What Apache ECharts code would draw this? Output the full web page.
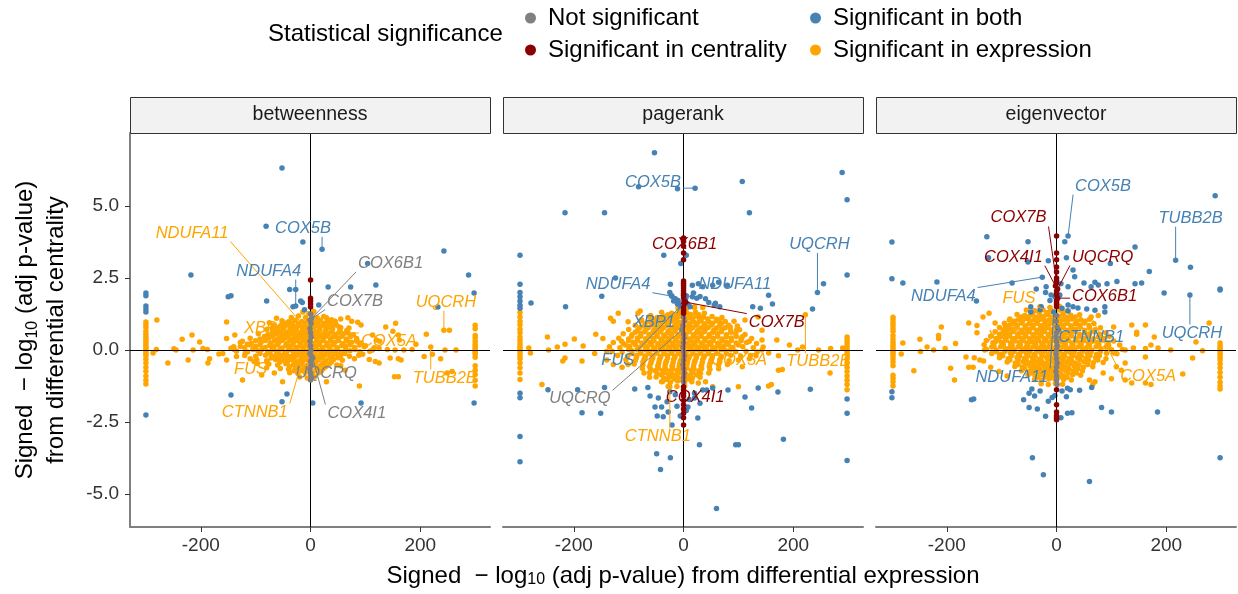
<!DOCTYPE html>
<html>
<head>
<meta charset="utf-8">
<script src="https://cdn.jsdelivr.net/npm/echarts@6/dist/echarts.min.js"></script>
<style>
  html, body { margin: 0; padding: 0; background: #ffffff; }
  #chart { width: 1238px; height: 594px; }
</style>
</head>
<body>
<div id="chart"></div>
<script>
// ---- Facets, categories and ticks ----
const facets = ['betweenness', 'pagerank', 'eigenvector'];
const categoryNames = ['Not significant', 'Significant in both', 'Significant in centrality', 'Significant in expression'];
const xTicks = [-200, 0, 200];
const yTicks = [-5, -2.5, 0, 2.5, 5];

// ---- betweenness: [signed -log10 p (expression), signed -log10 p (centrality)] ----
const betweennessExpression = [
  [-300,0.97],[-300,0.88],[-300,0.78],[-300,0.65],[-300,0.55],[-300,0.45],[-300,0.38],[-300,0.3],[-300,0.22],[-300,0.14],[-300,0.07],[-300,0.0],[-300,-0.06],[-300,-0.12],[-300,-0.2],[-300,-0.32],[-300,-0.45],[-300,-0.6],[-300,-0.74],[-300,-0.9],[-300,-1.05],[-300,-1.18],
  [300,0.86],[300,0.74],[300,0.5],[300,0.42],[300,0.3],[300,0.2],[300,0.12],[300,0.05],[300,-0.02],[300,-0.08],[300,-0.15],[300,-0.25],[300,-0.55],[300,-0.7],[300,-0.85],[300,-1.05],[300,-1.25],
  [-280,1.04],[-287,-0.1],[-281,0.02],[-260,-0.45],[-249,0.04],[-245,0.0],[-234,0.37],[-223,-0.35],[-216,0.52],[-214,0.0],[-202,0.28],[-196,0.05],[-188,0.02],[-187,-0.45],[-184,-0.3],[-167,-0.14],[-160,-0.12],[-153,0.97],[-153,0.4],[-153,-0.35],[-145,0.06],[-139,0.02],[-138,0.52],[-135,-0.23],[-124,-1.04],[-128,0.12],[-124,0.3],[-119,-0.1],[-115,0.2],[-110,-0.3],[-103,-0.4],[-97,-0.47],[-89,-0.87],[-75,0.95],[-70,0.75],[-62,1.1],[-51,0.95],[-51,-1.1],[-66,-0.8],[-80,-0.62],
  [29,1.12],[38,1.05],[45,0.98],[55,1.08],[68,1.12],[75,1.0],[86,0.96],[35,0.78],[52,0.8],[70,0.76],[92,0.87],[113,0.52],[120,0.35],[126,0.3],[137,0.8],[155,0.93],[150,0.65],[160,0.52],[162,0.35],[113,0.0],[125,0.05],[140,0.02],[154,0.0],[107,-0.33],[118,-0.4],[125,-0.45],[145,-0.28],[160,-0.3],[153,-0.93],[160,-0.93],[89,-1.25],[55,-0.55],[63,-0.7],[29,-1.1],[165,-0.35],[170,0.0],[185,0.02],[211,0.55],[207,-0.23],[222,-0.15],[237,-0.3],[245,0.0],[265,0.0],[253,0.69],[249,-0.8],[258,-0.75],[192,0.2],[100,0.15],[95,-0.15],[85,0.3],[80,-0.3],
  [-14,1.32],[-3,1.27],[6,1.34],
  [-35,1.13],[-22,1.18],[-9,1.14],[3,1.17],[12,1.12],[24,1.16],
  [-52,1.02],[-40,0.98],[-28,1.03],[-16,0.99],[-5,1.01],[8,0.97],[18,1.03],[30,0.99],[44,1.01],
  [-68,0.86],[-55,0.83],[-42,0.87],[-31,0.84],[-20,0.86],[-10,0.82],[0,0.87],[11,0.84],[22,0.86],[34,0.83],[47,0.87],
  [-80,0.71],[-64,0.68],[-50,0.72],[-38,0.69],[-27,0.71],[-15,0.67],[-5,0.72],[6,0.69],[17,0.71],[28,0.68],[40,0.72],[54,0.7],[66,0.68],
  [-95,0.56],[-78,0.53],[-62,0.57],[-49,0.54],[-36,0.56],[-24,0.52],[-12,0.57],[-2,0.54],[9,0.56],[21,0.53],[33,0.57],[46,0.54],[60,0.56],[78,0.53],
  [-110,0.41],[-92,0.38],[-76,0.42],[-60,0.39],[-47,0.41],[-34,0.37],[-22,0.42],[-11,0.39],[0,0.41],[11,0.38],[23,0.42],[36,0.39],[50,0.41],[65,0.38],[84,0.4],
  [-128,0.26],[-108,0.23],[-90,0.27],[-73,0.24],[-58,0.26],[-44,0.22],[-31,0.27],[-19,0.24],[-7,0.26],[5,0.23],[17,0.27],[30,0.24],[44,0.26],[59,0.23],[75,0.27],[92,0.24],
  [-140,0.11],[-120,0.08],[-100,0.12],[-83,0.09],[-67,0.11],[-52,0.07],[-38,0.12],[-25,0.09],[-12,0.11],[-1,0.08],[10,0.12],[22,0.09],[35,0.11],[49,0.08],[64,0.12],[80,0.09],[98,0.11],[116,0.08],
  [-135,-0.04],[-115,-0.07],[-96,-0.03],[-78,-0.06],[-62,-0.04],[-47,-0.08],[-33,-0.03],[-20,-0.06],[-8,-0.04],[4,-0.07],[16,-0.03],[28,-0.06],[41,-0.04],[56,-0.07],[72,-0.03],[90,-0.06],[108,-0.04],
  [-120,-0.19],[-100,-0.22],[-82,-0.18],[-66,-0.21],[-51,-0.19],[-37,-0.23],[-24,-0.18],[-11,-0.21],[1,-0.19],[13,-0.22],[26,-0.18],[40,-0.21],[55,-0.19],[71,-0.22],[88,-0.18],
  [-98,-0.34],[-80,-0.37],[-64,-0.33],[-49,-0.36],[-35,-0.34],[-22,-0.38],[-9,-0.33],[3,-0.36],[15,-0.34],[28,-0.37],[42,-0.33],[58,-0.36],
  [-76,-0.49],[-60,-0.52],[-45,-0.48],[-31,-0.51],[-18,-0.49],[-6,-0.53],[7,-0.48],[20,-0.51],[34,-0.49],[48,-0.52],
  [-55,-0.64],[-40,-0.67],[-27,-0.63],[-14,-0.66],[-2,-0.64],[11,-0.67],[24,-0.63],
  [-38,-0.79],[-23,-0.82],[-10,-0.78],[3,-0.81],[15,-0.79],
  [-20,-0.94],[-6,-0.97],[8,-0.93]
];
const betweennessExpressionCore = [
  [-46,0.93],[-34,0.94],[-22,0.92],[-10,0.94],[2,0.92],[13,0.94],[25,0.92],[38,0.94],
  [-60,0.78],[-48,0.79],[-36,0.77],[-25,0.79],[-15,0.77],[-5,0.79],[5,0.77],[16,0.79],[28,0.77],[40,0.79],[55,0.78],
  [-70,0.62],[-56,0.63],[-43,0.61],[-31,0.63],[-19,0.61],[-8,0.63],[3,0.61],[14,0.63],[26,0.61],[39,0.63],[52,0.62],[68,0.61],
  [-84,0.47],[-69,0.48],[-54,0.46],[-41,0.48],[-29,0.46],[-17,0.48],[-6,0.46],[5,0.48],[16,0.46],[28,0.48],[42,0.46],[57,0.48],[73,0.47],
  [-100,0.32],[-82,0.33],[-66,0.31],[-52,0.33],[-38,0.31],[-25,0.33],[-13,0.31],[-1,0.33],[11,0.31],[23,0.33],[37,0.31],[51,0.33],[67,0.31],[84,0.32],
  [-110,0.17],[-92,0.18],[-75,0.16],[-60,0.18],[-45,0.16],[-32,0.18],[-19,0.16],[-7,0.18],[4,0.16],[16,0.18],[29,0.16],[42,0.18],[57,0.16],[72,0.18],[89,0.17],
  [-105,0.02],[-88,0.03],[-70,0.01],[-55,0.03],[-40,0.01],[-27,0.03],[-14,0.01],[-2,0.03],[10,0.01],[22,0.03],[35,0.01],[48,0.03],[64,0.01],[81,0.02],
  [-92,-0.12],[-74,-0.11],[-58,-0.13],[-44,-0.11],[-30,-0.13],[-17,-0.11],[-5,-0.13],[7,-0.11],[19,-0.13],[33,-0.11],[48,-0.13],[63,-0.12],
  [-72,-0.27],[-57,-0.26],[-43,-0.28],[-30,-0.26],[-16,-0.28],[-3,-0.26],[9,-0.28],[21,-0.26],[35,-0.28],[50,-0.27],
  [-56,-0.42],[-42,-0.41],[-28,-0.43],[-15,-0.41],[-2,-0.43],[10,-0.41],[24,-0.43],[38,-0.42],
  [-38,-0.57],[-24,-0.56],[-11,-0.58],[1,-0.56],[14,-0.58],[28,-0.57],
  [-30,-0.72],[-16,-0.71],[-3,-0.73],[9,-0.71],[20,-0.72]
];
const betweennessBoth = [
  [-52,6.32],[-81,4.3],[-14,3.75],[104,3.0],[-218,2.6],[243,3.44],[288,2.6],[-38,2.1],[-27,2.1],[32,2.19],[73,2.19],[119,2.26],
  [-150,1.85],[-145,1.88],[-80,1.7],[-18,1.7],[-15,1.65],[-32,1.5],[-11,1.4],[15,1.56],[232,1.49],
  [-300,1.98],[-300,1.88],[-300,1.53],[-300,1.42],[-300,1.32],[-300,-2.26],[298,1.98],[298,-1.84],
  [92,-1.84],[4,-1.84],[-145,-1.56],[-52,-1.8],[-43,-1.53]
];
const betweennessCentrality = [[0,2.43],[0,1.8],[0,1.7],[0,1.6],[0,1.49]];
const betweennessNone = [
  [0,1.25],[1,0.92],[-1,0.75],[0,0.6],[1,0.45],[-1,0.3],[0,0.15],[1,0.0],[-1,-0.12],[0,-0.38],[1,-0.52],[-1,-0.66],[0,-0.8],[1,-0.92],[0,-1.04]
];
// labelled genes: [gene, category, x, y]
const betweennessGenes = [
  ['NDUFA11','expression',-10,0.8],['COX5B','both',21,3.5],['NDUFA4','both',-27,1.53],['COX6B1','none',2,1.1],
  ['COX7B','none',-1,1.04],['XBP1','expression',-10,0.62],['COX5A','expression',68,0.59],['FUS','expression',-20,-0.07],
  ['UQCRQ','none',1,-0.2],['CTNNB1','expression',-16,-0.42],['COX4I1','none',4,-0.28],['UQCRH','expression',243,0.69],
  ['TUBB2B','expression',219,0.1]
];

// ---- pagerank ----
const pagerankExpression = [
  [-298,1.3],[-298,1.15],[-298,1.0],[-298,0.88],[-298,0.72],[-298,0.6],[-298,0.45],[-298,0.33],[-298,0.22],[-298,0.12],[-298,0.05],[-298,-0.02],[-298,-0.1],[-298,-0.2],[-298,-0.3],[-298,-0.45],[-298,-0.62],[-298,-0.8],[-298,-1.02],
  [298,0.45],[298,0.35],[298,0.25],[298,0.15],[298,0.05],[298,-0.05],[298,-0.15],[298,-0.3],[298,-0.45],[298,-0.6],[298,-0.75],[298,-0.9],[298,-1.05],[298,-1.2],[298,-1.38],
  [-279,-0.1],[-282,0.07],[-248,0.45],[-230,0.1],[-246,0.0],[-216,0.2],[-199,0.38],[-216,-0.28],[-220,-0.38],[-185,-0.38],[-183,0.14],[-160,0.55],[-162,-0.12],[-147,0.4],[-140,-0.05],[-133,1.1],[-119,1.28],[-113,0.3],[-101,0.98],[-83,1.28],[-77,1.05],[-258,-1.2],[-140,-0.35],[-128,-0.5],[-112,-0.6],[-101,-0.5],[-72,-0.8],[-62,-0.95],[-40,-1.1],[-28,-1.27],[-128,1.0],[-79,1.35],[-60,1.2],[-43,1.12],[20,1.5],[35,1.48],[67,0.95],[85,0.8],[97,0.7],
  [107,0.46],[136,1.15],[143,0.69],[170,0.35],[193,0.17],[208,0.0],[217,0.1],[246,0.0],[268,0.05],[290,0.07],[267,-0.8],[173,-0.7],[180,-0.68],[155,-1.25],[160,-1.2],[100,-1.28],[107,-0.58],[53,-1.28],[40,-1.1],[27,-1.15],[143,0.0],[155,-0.1],[173,-0.2],[120,-0.3],[132,-0.2],[120,0.3],[143,0.35],[112,1.04],
  [-10,1.46],[5,1.43],[20,1.47],
  [-40,1.31],[-22,1.28],[-8,1.32],[6,1.29],[22,1.31],[38,1.28],
  [-62,1.16],[-48,1.13],[-34,1.17],[-20,1.14],[-6,1.16],[8,1.12],[22,1.17],[36,1.14],[52,1.16],[70,1.13],
  [-78,1.01],[-62,0.98],[-48,1.02],[-35,0.99],[-22,1.01],[-9,0.97],[4,1.02],[18,0.99],[32,1.01],[46,0.98],[60,1.02],[76,0.99],[92,1.0],
  [-88,0.86],[-72,0.83],[-57,0.87],[-43,0.84],[-30,0.86],[-17,0.82],[-4,0.87],[9,0.84],[23,0.86],[37,0.83],[51,0.87],[66,0.84],[82,0.86],[98,0.83],
  [-100,0.71],[-84,0.68],[-68,0.72],[-54,0.69],[-40,0.71],[-27,0.67],[-14,0.72],[-1,0.69],[12,0.71],[26,0.68],[40,0.72],[55,0.69],[70,0.71],[86,0.68],[102,0.7],
  [-110,0.56],[-94,0.53],[-78,0.57],[-63,0.54],[-49,0.56],[-36,0.52],[-22,0.57],[-9,0.54],[4,0.56],[18,0.53],[32,0.57],[47,0.54],[62,0.56],[78,0.53],[95,0.57],[112,0.54],
  [-118,0.41],[-100,0.38],[-84,0.42],[-69,0.39],[-55,0.41],[-41,0.37],[-28,0.42],[-15,0.39],[-2,0.41],[11,0.38],[25,0.42],[39,0.39],[54,0.41],[70,0.38],[87,0.42],[105,0.39],[124,0.4],
  [-128,0.26],[-110,0.23],[-92,0.27],[-76,0.24],[-61,0.26],[-47,0.22],[-34,0.27],[-21,0.24],[-8,0.26],[5,0.23],[18,0.27],[32,0.24],[47,0.26],[62,0.23],[78,0.27],[96,0.24],[115,0.26],[133,0.23],
  [-135,0.11],[-116,0.08],[-98,0.12],[-81,0.09],[-66,0.11],[-52,0.07],[-38,0.12],[-25,0.09],[-12,0.11],[1,0.08],[14,0.12],[28,0.09],[42,0.11],[57,0.08],[73,0.12],[90,0.09],[108,0.11],[127,0.08],[145,0.1],
  [-130,-0.04],[-112,-0.07],[-94,-0.03],[-78,-0.06],[-63,-0.04],[-49,-0.08],[-35,-0.03],[-22,-0.06],[-9,-0.04],[4,-0.07],[17,-0.03],[31,-0.06],[46,-0.04],[61,-0.07],[77,-0.03],[95,-0.06],[114,-0.04],[134,-0.07],
  [-120,-0.19],[-102,-0.22],[-85,-0.18],[-70,-0.21],[-56,-0.19],[-42,-0.23],[-29,-0.18],[-16,-0.21],[-3,-0.19],[10,-0.22],[24,-0.18],[38,-0.21],[53,-0.19],[69,-0.22],[86,-0.18],[104,-0.21],[122,-0.19],
  [-105,-0.34],[-88,-0.37],[-72,-0.33],[-58,-0.36],[-44,-0.34],[-31,-0.38],[-18,-0.33],[-5,-0.36],[8,-0.34],[21,-0.37],[35,-0.33],[50,-0.36],[66,-0.34],[83,-0.37],[100,-0.35],
  [-90,-0.49],[-74,-0.52],[-60,-0.48],[-46,-0.51],[-33,-0.49],[-20,-0.53],[-7,-0.48],[6,-0.51],[19,-0.49],[33,-0.52],[48,-0.48],[64,-0.51],[80,-0.5],
  [-75,-0.64],[-60,-0.67],[-46,-0.63],[-33,-0.66],[-20,-0.64],[-7,-0.68],[6,-0.63],[19,-0.66],[33,-0.64],[48,-0.67],[64,-0.65],
  [-62,-0.79],[-48,-0.82],[-35,-0.78],[-22,-0.81],[-9,-0.79],[4,-0.83],[17,-0.78],[31,-0.81],[46,-0.8],
  [-50,-0.94],[-36,-0.97],[-23,-0.93],[-10,-0.96],[3,-0.94],[16,-0.97],[30,-0.95],
  [-38,-1.09],[-24,-1.12],[-11,-1.08],[2,-1.11],[15,-1.1],
  [-26,-1.24],[-12,-1.27],[2,-1.25]
];
const pagerankExpressionCore = [
  [-28,1.22],[-14,1.23],[-1,1.21],[13,1.23],[28,1.22],
  [-55,1.07],[-41,1.08],[-27,1.06],[-13,1.08],[1,1.06],[15,1.08],[29,1.06],[44,1.08],[60,1.07],
  [-70,0.92],[-55,0.93],[-41,0.91],[-28,0.93],[-15,0.91],[-2,0.93],[11,0.91],[25,0.93],[39,0.91],[53,0.93],[69,0.92],
  [-80,0.77],[-64,0.78],[-50,0.76],[-36,0.78],[-22,0.76],[-9,0.78],[4,0.76],[17,0.78],[31,0.76],[45,0.78],[60,0.76],[76,0.77],
  [-88,0.62],[-71,0.63],[-56,0.61],[-43,0.63],[-29,0.61],[-16,0.63],[-3,0.61],[10,0.63],[24,0.61],[38,0.63],[53,0.61],[69,0.63],[86,0.62],
  [-95,0.47],[-78,0.48],[-62,0.46],[-48,0.48],[-35,0.46],[-22,0.48],[-9,0.46],[4,0.48],[18,0.46],[32,0.48],[46,0.46],[62,0.48],[78,0.46],[96,0.47],
  [-100,0.32],[-84,0.33],[-68,0.31],[-54,0.33],[-40,0.31],[-27,0.33],[-14,0.31],[-1,0.33],[12,0.31],[25,0.33],[39,0.31],[54,0.33],[70,0.31],[87,0.33],[105,0.32],
  [-106,0.17],[-88,0.18],[-72,0.16],[-58,0.18],[-44,0.16],[-31,0.18],[-18,0.16],[-5,0.18],[8,0.16],[21,0.18],[35,0.16],[50,0.18],[65,0.16],[82,0.18],[100,0.17],
  [-100,0.02],[-84,0.03],[-69,0.01],[-55,0.03],[-42,0.01],[-28,0.03],[-15,0.01],[-2,0.03],[11,0.01],[24,0.03],[38,0.01],[53,0.03],[69,0.01],[86,0.02],
  [-94,-0.12],[-78,-0.11],[-63,-0.13],[-49,-0.11],[-36,-0.13],[-22,-0.11],[-9,-0.13],[4,-0.11],[17,-0.13],[31,-0.11],[45,-0.13],[61,-0.11],[78,-0.12],
  [-86,-0.27],[-70,-0.26],[-56,-0.28],[-42,-0.26],[-29,-0.28],[-16,-0.26],[-3,-0.28],[10,-0.26],[23,-0.28],[37,-0.26],[52,-0.28],[68,-0.27],
  [-74,-0.42],[-59,-0.41],[-45,-0.43],[-32,-0.41],[-19,-0.43],[-6,-0.41],[7,-0.43],[20,-0.41],[34,-0.43],[50,-0.41],[66,-0.42],
  [-62,-0.57],[-47,-0.56],[-34,-0.58],[-21,-0.56],[-8,-0.58],[5,-0.56],[18,-0.58],[32,-0.56],[47,-0.57],
  [-52,-0.72],[-38,-0.71],[-25,-0.73],[-12,-0.71],[1,-0.73],[14,-0.71],[28,-0.72],
  [-40,-0.87],[-27,-0.86],[-14,-0.88],[-1,-0.86],[12,-0.88],[24,-0.87],
  [-30,-1.02],[-17,-1.01],[-4,-1.03],[9,-1.01]
];
const pagerankBoth = [
  [-53,6.85],[-11,5.6],[-82,5.67],[107,5.85],[289,6.16],[298,5.22],[-216,4.77],[-144,4.77],[120,4.77],[-298,3.29],[-36,3.29],[5,3.29],[-5,3.0],[255,2.3],[298,2.6],[-298,2.28],[-124,2.5],[-24,2.28],[16,2.25],[27,2.3],[35,2.2],[53,2.25],[64,2.35],[80,2.25],
  [-25,2.0],[-22,1.88],[-15,1.78],[-10,1.72],[-18,1.7],[-11,1.6],[-6,1.55],[5,1.88],[8,1.6],[16,1.85],[18,1.98],[24,1.8],[30,1.86],[40,1.78],[46,1.65],[58,1.62],[12,1.5],[56,1.55],[66,1.5],[126,1.5],[140,1.45],[155,1.9],[162,1.6],[235,1.42],[-278,1.63],[-215,1.5],[-149,1.87],[-298,2.0],[-298,1.85],[-298,1.7],[-298,1.55],[-298,1.45],
  [-298,-1.5],[-298,-1.66],[-298,-3.0],[-298,-3.88],[-247,-1.38],[-193,-1.38],[-144,-1.3],[-89,-1.35],[-65,-1.3],[-185,-2.18],[-151,-2.2],
  [-61,-1.6],[-46,-1.67],[-52,-1.98],[-40,-1.98],[-48,-2.29],[-37,-2.32],[-28,-2.15],[-21,-2.6],[-6,-2.29],[8,-1.98],[20,-1.67],[26,-2.36],[35,-1.39],[42,-1.39],[53,-1.32],[20,-1.5],[-15,-1.55],[-30,-1.8],[10,-1.72],[30,-1.85],[-12,-1.95],[-25,-1.45],[5,-2.1],
  [81,-1.39],[112,-1.63],[124,-2.01],[136,-1.32],[172,-1.46],[231,-1.36],[95,-3.29],[100,-3.29],[29,-3.29],[-49,-3.6],[-24,-3.74],[-42,-4.15],[60,-5.5],[182,-3.1],[298,-1.7],[298,-2.2],[298,-3.84]
];
const pagerankCentrality = [
  [0,3.77],[0,3.6],[0,3.37],[0,3.13],[0,2.4],[0,2.32],[0,2.24],[0,2.15],[0,2.06],[0,1.97],[0,1.9],[0,1.82],[0,1.58],[0,1.5],[0,1.42],[0,1.35],[0,1.28],
  [0,-1.28],[0,-1.38],[0,-1.5],[0,-1.6],[0,-1.75],[0,-1.9],[0,-2.05],[0,-2.2],[0,-2.35],[0,-2.6]
];
const pagerankNone = [
  [0,1.15],[1,1.0],[-1,0.85],[0,0.55],[1,0.4],[0,0.25],[-1,0.1],[0,-0.05],[1,-0.2],[0,-0.35],[-1,-0.5],[0,-0.65],[1,-0.8],[0,-0.95],[0,-1.1]
];
const pagerankGenes = [
  ['COX5B','both',21,5.62],['COX6B1','centrality',0,3.89],['UQCRH','both',244,2.0],['NDUFA4','both',-21,1.87],
  ['NDUFA11','both',4,1.8],['COX7B','centrality',4,1.66],['XBP1','both',-3,1.6],['FUS','both',-5,1.53],
  ['COX5A','expression',63,1.04],['TUBB2B','expression',222,1.22],['UQCRQ','none',-3,0.7],['COX4I1','centrality',1,1.73],
  ['CTNNB1','expression',-25,-1.28]
];

// ---- eigenvector ----
const eigenvectorExpression = [
  [-298,1.14],[-298,1.05],[-298,0.95],[-298,0.85],[-298,0.75],[-298,0.65],[-298,0.5],[-298,0.38],[-298,0.28],[-298,0.18],[-298,0.1],[-298,0.02],[-298,-0.05],[-298,-0.12],[-298,-0.2],[-298,-0.3],[-298,-0.42],[-298,-0.55],[-298,-0.88],[-298,-0.98],[-298,-1.1],[-298,-1.25],
  [298,0.24],[298,0.15],[298,0.07],[298,0.0],[298,-0.07],[298,-0.15],[298,-0.25],[298,-0.35],[298,-0.48],[298,-0.62],[298,-0.78],[298,-0.95],[298,-1.12],[298,-1.25],[298,-1.35],
  [-280,0.24],[-283,-0.14],[-260,-0.72],[-249,0.37],[-248,-0.05],[-236,0.1],[-224,0.0],[-215,0.5],[-215,0.4],[-210,0.8],[-203,0.05],[-193,-0.63],[-186,-1.04],[-184,0.23],[-165,-0.24],[-160,0.94],[-160,-0.6],[-152,-0.6],[-150,-0.27],[-145,0.85],[-145,0.6],[-134,1.15],[-131,0.0],[-123,1.28],[-112,0.94],[-104,-0.15],[-93,0.83],[-86,1.04],[-79,0.98],[-140,-0.35],[-133,-0.38],[-120,-0.6],[-105,-0.75],[-90,-0.9],
  [76,1.2],[104,0.8],[137,0.87],[162,0.87],[146,0.62],[146,0.55],[178,0.45],[172,0.17],[185,0.07],[162,-0.24],[208,0.0],[230,-0.83],[248,-0.28],[254,0.28],[266,-0.03],[278,0.94],[100,-1.0],[109,-0.58],[125,-1.04],[137,-1.15],[162,-1.15],[172,-1.2],[118,-0.7],[125,-0.45],[60,-1.04],[66,-1.2],[70,-1.1],[125,0.0],[140,0.07],[162,0.05],[104,-0.1],[92,0.1],[85,-0.8],
  [-30,1.51],[-12,1.48],[5,1.52],
  [-55,1.39],[-40,1.36],[-25,1.4],[-10,1.37],[6,1.39],[20,1.36],
  [-72,1.23],[-58,1.2],[-44,1.24],[-30,1.21],[-16,1.23],[-2,1.19],[12,1.24],[26,1.21],[42,1.22],
  [-85,1.08],[-70,1.05],[-55,1.09],[-41,1.06],[-28,1.08],[-14,1.04],[-1,1.09],[13,1.06],[28,1.08],[44,1.05],[60,1.07],
  [-95,0.93],[-80,0.9],[-64,0.94],[-50,0.91],[-36,0.93],[-22,0.89],[-9,0.94],[5,0.91],[19,0.93],[34,0.9],[50,0.94],[68,0.92],
  [-104,0.78],[-88,0.75],[-72,0.79],[-57,0.76],[-43,0.78],[-29,0.74],[-16,0.79],[-2,0.76],[12,0.78],[27,0.75],[43,0.79],[60,0.76],[80,0.77],
  [-112,0.63],[-95,0.6],[-79,0.64],[-64,0.61],[-50,0.63],[-36,0.59],[-22,0.64],[-9,0.61],[5,0.63],[19,0.6],[34,0.64],[51,0.61],[69,0.63],[90,0.6],
  [-120,0.48],[-102,0.45],[-86,0.49],[-70,0.46],[-56,0.48],[-42,0.44],[-28,0.49],[-15,0.46],[-1,0.48],[13,0.45],[27,0.49],[42,0.46],[58,0.48],[76,0.45],[96,0.47],
  [-128,0.33],[-110,0.3],[-92,0.34],[-76,0.31],[-61,0.33],[-47,0.29],[-33,0.34],[-20,0.31],[-7,0.33],[7,0.3],[21,0.34],[35,0.31],[50,0.33],[66,0.3],[84,0.34],[104,0.31],
  [-132,0.18],[-114,0.15],[-97,0.19],[-81,0.16],[-66,0.18],[-52,0.14],[-38,0.19],[-24,0.16],[-11,0.18],[3,0.15],[16,0.19],[30,0.16],[45,0.18],[60,0.15],[77,0.19],[95,0.16],[115,0.17],
  [-128,0.03],[-110,0.0],[-93,0.04],[-77,0.01],[-62,0.03],[-48,-0.01],[-34,0.04],[-21,0.01],[-8,0.03],[6,0.0],[19,0.04],[33,0.01],[48,0.03],[64,0.0],[81,0.04],[100,0.01],[120,0.02],
  [-118,-0.12],[-100,-0.15],[-84,-0.11],[-69,-0.14],[-55,-0.12],[-41,-0.16],[-28,-0.11],[-15,-0.14],[-2,-0.12],[12,-0.15],[26,-0.11],[41,-0.14],[56,-0.12],[73,-0.15],[91,-0.11],[110,-0.13],
  [-104,-0.27],[-88,-0.3],[-72,-0.26],[-58,-0.29],[-44,-0.27],[-31,-0.31],[-18,-0.26],[-5,-0.29],[9,-0.27],[23,-0.3],[38,-0.26],[54,-0.29],[71,-0.27],[90,-0.3],
  [-90,-0.42],[-75,-0.45],[-61,-0.41],[-47,-0.44],[-34,-0.42],[-21,-0.46],[-8,-0.41],[5,-0.44],[19,-0.42],[34,-0.45],[50,-0.41],[67,-0.44],[85,-0.43],
  [-76,-0.57],[-62,-0.6],[-48,-0.56],[-35,-0.59],[-22,-0.57],[-9,-0.61],[4,-0.56],[18,-0.59],[33,-0.57],[49,-0.6],[66,-0.58],
  [-64,-0.72],[-50,-0.75],[-37,-0.71],[-24,-0.74],[-11,-0.72],[2,-0.76],[16,-0.71],[31,-0.74],[47,-0.73],
  [-52,-0.87],[-39,-0.9],[-26,-0.86],[-13,-0.89],[0,-0.87],[14,-0.9],[29,-0.86],[44,-0.88],
  [-40,-1.02],[-27,-1.05],[-14,-1.01],[-1,-1.04],[13,-1.02],[27,-1.04],
  [-28,-1.17],[-15,-1.2],[-2,-1.16],[11,-1.19]
];
const eigenvectorExpressionCore = [
  [-45,1.3],[-32,1.31],[-18,1.29],[-3,1.31],[12,1.3],
  [-64,1.15],[-50,1.16],[-37,1.14],[-23,1.16],[-9,1.14],[5,1.16],[19,1.14],[34,1.15],
  [-77,1.0],[-62,1.01],[-48,0.99],[-34,1.01],[-21,0.99],[-7,1.01],[6,0.99],[20,1.01],[36,0.99],[52,1.0],
  [-87,0.85],[-72,0.86],[-57,0.84],[-43,0.86],[-29,0.84],[-15,0.86],[-2,0.84],[12,0.86],[26,0.84],[42,0.86],[59,0.85],
  [-96,0.7],[-80,0.71],[-64,0.69],[-50,0.71],[-36,0.69],[-22,0.71],[-9,0.69],[5,0.71],[19,0.69],[35,0.71],[51,0.69],[70,0.7],
  [-104,0.55],[-87,0.56],[-71,0.54],[-57,0.56],[-43,0.54],[-29,0.56],[-15,0.54],[-2,0.56],[12,0.54],[26,0.56],[42,0.54],[60,0.56],[79,0.55],
  [-110,0.4],[-93,0.41],[-78,0.39],[-63,0.41],[-49,0.39],[-35,0.41],[-22,0.39],[-8,0.41],[6,0.39],[20,0.41],[35,0.39],[50,0.41],[67,0.39],[86,0.4],
  [-116,0.25],[-100,0.26],[-84,0.24],[-68,0.26],[-54,0.24],[-40,0.26],[-27,0.24],[-13,0.26],[0,0.24],[14,0.26],[28,0.24],[43,0.26],[58,0.24],[75,0.26],[94,0.25],
  [-118,0.1],[-102,0.11],[-85,0.09],[-70,0.11],[-56,0.09],[-42,0.11],[-29,0.09],[-15,0.11],[-2,0.09],[12,0.11],[26,0.09],[40,0.11],[55,0.09],[72,0.11],[90,0.1],
  [-110,-0.05],[-94,-0.04],[-78,-0.06],[-63,-0.04],[-49,-0.06],[-36,-0.04],[-23,-0.06],[-10,-0.04],[4,-0.06],[18,-0.04],[32,-0.06],[47,-0.04],[63,-0.06],[80,-0.05],
  [-98,-0.2],[-82,-0.19],[-67,-0.21],[-52,-0.19],[-39,-0.21],[-26,-0.19],[-12,-0.21],[1,-0.19],[15,-0.21],[30,-0.19],[45,-0.21],[61,-0.19],[78,-0.2],
  [-85,-0.35],[-70,-0.34],[-55,-0.36],[-41,-0.34],[-28,-0.36],[-15,-0.34],[-1,-0.36],[12,-0.34],[27,-0.36],[42,-0.34],[58,-0.36],[75,-0.35],
  [-70,-0.5],[-56,-0.49],[-42,-0.51],[-29,-0.49],[-16,-0.51],[-3,-0.49],[11,-0.51],[25,-0.49],[41,-0.51],[57,-0.5],
  [-58,-0.65],[-44,-0.64],[-31,-0.66],[-18,-0.64],[-5,-0.66],[9,-0.64],[23,-0.66],[39,-0.65],
  [-45,-0.8],[-32,-0.79],[-19,-0.81],[-6,-0.79],[7,-0.81],[21,-0.79],[36,-0.8],
  [-34,-0.95],[-21,-0.94],[-8,-0.96],[5,-0.94],[19,-0.95]
];
const eigenvectorBoth = [
  [289,5.36],[-127,3.93],[-52,3.76],[15,3.76],[-300,3.75],[143,3.58],[244,2.87],[169,2.73],[98,3.0],[30,2.78],[33,2.54],[18,3.2],[-124,3.2],[-52,3.06],[-15,3.1],
  [-300,2.47],[-280,2.33],[-218,2.36],[-81,2.33],[-37,2.12],[-19,2.2],[8,2.3],[21,2.2],[50,2.33],[63,2.2],[70,2.35],[76,2.26],[92,2.3],[110,2.38],[143,2.3],[155,2.33],[298,2.12],
  [-146,1.7],[-10,1.91],[-3,1.85],[6,1.91],[-47,1.5],[-47,1.32],[-28,1.5],[21,1.56],[21,1.35],[30,1.5],[39,1.46],[88,1.5],[88,1.32],[196,1.98],[298,2.08],[-20,2.0],[-12,1.72],[-30,1.4],[10,1.45],[55,1.42],[70,1.38],
  [-300,-1.45],[-300,-1.66],[-151,-1.7],[-155,-1.73],[-60,-1.73],[-50,-1.5],[-45,-1.35],[-40,-1.6],[-30,-1.42],[-20,-2.3],[-15,-1.78],[-8,-1.65],[-3,-1.58],[10,-1.42],[20,-1.33],[25,-1.38],[18,-1.62],[8,-2.35],[20,-2.2],[28,-2.18],[42,-1.4],[64,-1.3],[82,-2.0],[100,-2.15],[184,-2.15],[-44,-3.74],[-24,-4.33],[60,-4.57],[298,-3.74],[-35,-2.05],[-50,-2.0]
];
const eigenvectorCentrality = [
  [0,3.96],[0,3.37],[0,3.13],[0,2.88],[0,2.71],[0,2.5],[0,2.42],[0,2.05],[0,1.97],[0,1.9],[0,1.72],[0,1.65],[0,1.58],[0,1.5],
  [0,-1.38],[0,-1.9],[0,-2.15],[0,-2.28],[0,-2.35],[0,-2.42]
];
const eigenvectorNone = [
  [0,1.2],[-1,1.0],[1,0.8],[0,0.6],[-1,0.45],[0,0.3],[1,0.15],[0,0.0],[-1,-0.15],[0,-0.3],[1,-0.45],[0,-0.6],[-1,-0.75],[0,-0.9],[0,-1.05],[1,-1.2]
];
const eigenvectorGenes = [
  ['COX5B','both',21,3.96],['COX7B','centrality',0,2.33],['TUBB2B','both',217,3.12],['COX4I1','centrality',-2,2.22],
  ['UQCRQ','centrality',2,2.12],['NDUFA4','both',-26,2.53],['COX6B1','centrality',2,1.8],['FUS','expression',-12,1.32],
  ['XBP1','expression',-8,0.7],['CTNNB1','both',3,0.7],['NDUFA11','both',-5,1.32],['UQCRH','both',243,1.91],
  ['COX5A','expression',63,1.15]
];

// ---- Label placement (pixel offsets of each label centre from its point) ----
const labelOffsets = [
  { NDUFA11:[-113,-94], COX5B:[-19,-21], NDUFA4:[-27,-35], COX6B1:[79,-55], COX7B:[45,-19], XBP1:[-40,-4],
    COX5A:[41,8], FUS:[-49,17], UQCRQ:[15,18], CTNNB1:[-47,50], COX4I1:[44,55], UQCRH:[2,-28], TUBB2B:[14,31] },
  { COX5B:[-42,-6], COX6B1:[1,6], UQCRH:[2,-48], NDUFA4:[-54,-12], NDUFA11:[49,-14], COX7B:[91,20], XBP1:[-28,18],
    FUS:[-63,54], COX5A:[21,40], TUBB2B:[13,47], UQCRQ:[-102,69], COX4I1:[11,97], CTNNB1:[-12,50] },
  { COX5B:[35,-50], COX7B:[-38,-65], TUBB2B:[15,-42], COX4I1:[-42,-29], UQCRQ:[45,-32], NDUFA4:[-99,19],
    COX6B1:[47,-2], FUS:[-31,-14], XBP1:[-44,8], CTNNB1:[33,8], NDUFA11:[-42,65], UQCRH:[2,38], COX5A:[57,60] }
];

// ---- Styling ----
const FONT = '"Liberation Sans", Arial, sans-serif';
const COLOR = { none: '#808080', both: '#4682B4', centrality: '#8B0000', expression: '#FFA500' };
const NAME = { none: categoryNames[0], both: categoryNames[1], centrality: categoryNames[2], expression: categoryNames[3] };
const PANEL_LEFT = [130, 503, 876];
const PANEL_W = 360, PANEL_TOP = 133, PANEL_H = 394, STRIP_TOP = 97;
const X_MIN = -329, X_MAX = 327, Y_MIN = -6.146, Y_MAX = 7.535;
const POINT_SIZE = 5.5;
const LABEL_SIZE = 16.5;
const LABEL_FONT = 'italic ' + LABEL_SIZE + 'px ' + FONT;

const measure = document.createElement('canvas').getContext('2d');
measure.font = LABEL_FONT;

const panels = [
  { expression: betweennessExpression.concat(betweennessExpressionCore), both: betweennessBoth, centrality: betweennessCentrality, none: betweennessNone, genes: betweennessGenes },
  { expression: pagerankExpression.concat(pagerankExpressionCore), both: pagerankBoth, centrality: pagerankCentrality, none: pagerankNone, genes: pagerankGenes },
  { expression: eigenvectorExpression.concat(eigenvectorExpressionCore), both: eigenvectorBoth, centrality: eigenvectorCentrality, none: eigenvectorNone, genes: eigenvectorGenes }
];

// gene labels with leader segments (segment ends at the label box edge)
function labelRenderer(genes, offsets) {
  return function (params, api) {
    const g = genes[params.dataIndex];
    const color = COLOR[g[1]];
    const off = offsets[g[0]] || [0, 0];
    const p = api.coord([api.value(0), api.value(1)]);
    const cx = p[0] + off[0], cy = p[1] + off[1];
    const w = measure.measureText(g[0]).width, h = LABEL_SIZE * 0.8;
    const pad = 2;
    const l = cx - w / 2 - pad, r = cx + w / 2 + pad, t = cy - h / 2 - pad, b = cy + h / 2 + pad;
    const nx = Math.min(Math.max(p[0], l), r);
    const ny = Math.min(Math.max(p[1], t), b);
    const children = [];
    if (Math.hypot(nx - p[0], ny - p[1]) > 5) {
      children.push({ type: 'line', shape: { x1: p[0], y1: p[1], x2: nx, y2: ny }, style: { stroke: color, lineWidth: 1 } });
    }
    children.push({ type: 'text', style: { text: g[0], x: cx, y: cy, align: 'center', verticalAlign: 'middle', font: LABEL_FONT, fill: color } });
    return { type: 'group', children: children };
  };
}

const grid = [], xAxis = [], yAxis = [], series = [], graphic = [];
const zOrder = { expression: 2, both: 3, none: 5, centrality: 6 };

panels.forEach(function (panel, i) {
  grid.push({ left: PANEL_LEFT[i], top: PANEL_TOP, width: PANEL_W, height: PANEL_H });
  xAxis.push({
    type: 'value', gridIndex: i, min: X_MIN, max: X_MAX,
    axisLine: { show: true, onZero: false, lineStyle: { color: '#7f7f7f', width: 2 } },
    axisTick: { show: true, customValues: xTicks, length: 5, lineStyle: { color: '#333333', width: 1 } },
    axisLabel: { customValues: xTicks, fontSize: 19, color: '#333333', fontFamily: FONT, margin: 9 },
    splitLine: { show: false },
    name: i === 1 ? '{t|Signed  \u2212 log}{s|10}{t| (adj p-value) from differential expression}' : '',
    nameLocation: 'middle', nameGap: 37,
    nameTextStyle: {
      rich: {
        t: { fontSize: 24, color: '#000000', fontFamily: FONT },
        s: { fontSize: 16, color: '#000000', fontFamily: FONT, verticalAlign: 'bottom' }
      }
    }
  });
  yAxis.push({
    type: 'value', gridIndex: i, min: Y_MIN, max: Y_MAX,
    axisLine: { show: i === 0, onZero: false, lineStyle: { color: '#7f7f7f', width: 2 } },
    axisTick: { show: i === 0, customValues: yTicks, length: 5, lineStyle: { color: '#333333', width: 1 } },
    axisLabel: { show: i === 0, customValues: yTicks, fontSize: 19, color: '#333333', fontFamily: FONT, margin: 11,
      formatter: function (v) { return v.toFixed(1); } },
    splitLine: { show: false },
    name: i === 0 ? '{t|Signed  \u2212 log}{s|10}{t| (adj p-value)}\n{t|from differential centrality}' : '',
    nameLocation: 'middle', nameRotate: 90, nameGap: 58,
    nameTextStyle: {
      lineHeight: 31,
      rich: {
        t: { fontSize: 24, color: '#000000', fontFamily: FONT, lineHeight: 31 },
        s: { fontSize: 16, color: '#000000', fontFamily: FONT, verticalAlign: 'bottom', lineHeight: 31 }
      }
    }
  });

  ['expression', 'both', 'none', 'centrality'].forEach(function (cat) {
    const extra = panel.genes.filter(function (g) { return g[1] === cat; }).map(function (g) { return [g[2], g[3]]; });
    series.push({
      type: 'scatter', name: NAME[cat], xAxisIndex: i, yAxisIndex: i,
      data: panel[cat].concat(extra), symbol: 'circle', symbolSize: POINT_SIZE,
      itemStyle: { color: COLOR[cat], opacity: 1 }, z: zOrder[cat], silent: true
    });
  });
  // reference lines at zero
  series.push({
    type: 'scatter', xAxisIndex: i, yAxisIndex: i, data: [], z: 4, silent: true,
    markLine: { silent: true, symbol: ['none', 'none'], label: { show: false }, z: 4,
      lineStyle: { color: '#000000', width: 1, type: 'solid' },
      data: [{ xAxis: 0 }, { yAxis: 0 }] }
  });
  series.push({
    type: 'custom', xAxisIndex: i, yAxisIndex: i, coordinateSystem: 'cartesian2d', z: 8, silent: true, clip: false,
    data: panel.genes.map(function (g) { return [g[2], g[3]]; }),
    renderItem: labelRenderer(panel.genes, labelOffsets[i])
  });

  // facet strip
  graphic.push({ type: 'rect', left: PANEL_LEFT[i], top: STRIP_TOP, shape: { width: PANEL_W, height: PANEL_TOP - STRIP_TOP },
    style: { fill: '#F2F2F2', stroke: '#333333', lineWidth: 1 }, z: 10 });
  graphic.push({ type: 'text', x: PANEL_LEFT[i] + PANEL_W / 2, y: STRIP_TOP + (PANEL_TOP - STRIP_TOP) / 2,
    style: { text: facets[i], font: '19.5px ' + FONT, fill: '#1A1A1A', align: 'center', verticalAlign: 'middle' }, z: 11 });
});

const legendText = { fontSize: 24, color: '#000000', fontFamily: FONT, lineHeight: 26, padding: [0, 0, 0, 7] };
const option = {
  animation: false,
  backgroundColor: '#ffffff',
  title: { text: 'Statistical significance', left: 268, top: 22, padding: 0,
    textStyle: { fontSize: 24, fontWeight: 'normal', color: '#000000', fontFamily: FONT } },
  legend: [
    { data: [NAME.none, NAME.centrality], orient: 'vertical', left: 525, top: 5, padding: 0, icon: 'circle', itemWidth: 11, itemHeight: 11,
      itemGap: 6, selectedMode: false, textStyle: legendText },
    { data: [NAME.both, NAME.expression], orient: 'vertical', left: 810, top: 5, padding: 0, icon: 'circle', itemWidth: 11, itemHeight: 11,
      itemGap: 6, selectedMode: false, textStyle: legendText }
  ],
  grid: grid, xAxis: xAxis, yAxis: yAxis, series: series, graphic: graphic
};

const chart = echarts.init(document.getElementById('chart'), null, { renderer: 'canvas' });
chart.setOption(option);
</script>
</body>
</html>
